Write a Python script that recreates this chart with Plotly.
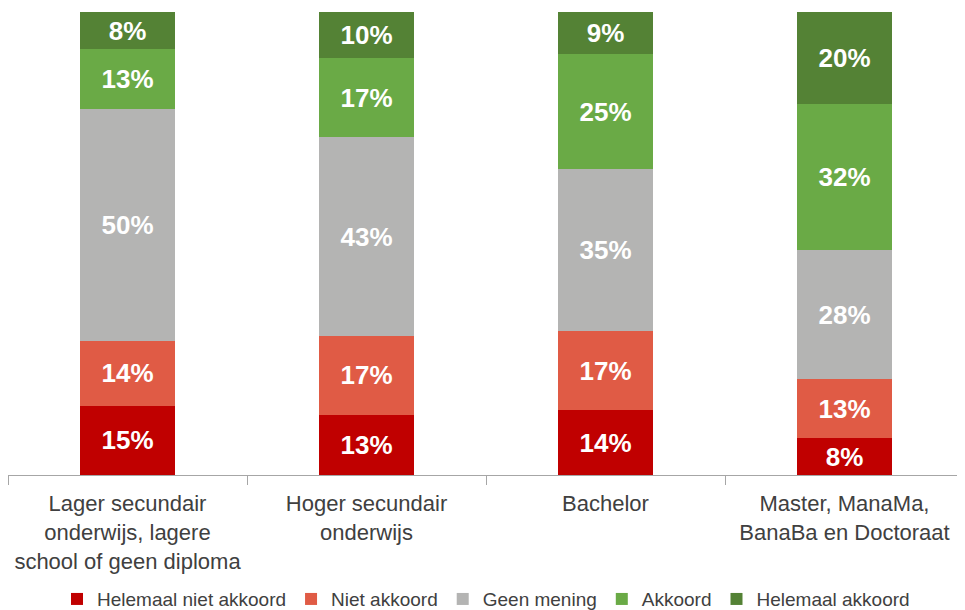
import plotly.graph_objects as go

categories = [
    "Lager secundair<br>onderwijs, lagere<br>school of geen diploma",
    "Hoger secundair<br>onderwijs",
    "Bachelor",
    "Master, ManaMa,<br>BanaBa en Doctoraat",
]
series_names = ["Helemaal niet akkoord", "Niet akkoord", "Geen mening", "Akkoord", "Helemaal akkoord"]
helemaal_niet = [15, 13, 14, 8]
niet = [14, 17, 17, 13]
geen = [50, 43, 35, 28]
akkoord = [13, 17, 25, 32]
helemaal = [8, 10, 9, 20]
colors = ["#C00000", "#E05B45", "#B4B4B3", "#6AAA46", "#548235"]

fig = go.Figure()
for name, vals, col in zip(series_names, [helemaal_niet, niet, geen, akkoord, helemaal], colors):
    fig.add_trace(go.Bar(
        x=categories, y=vals, name=name,
        marker=dict(color=col, line=dict(width=0)),
        text=[f"{v}%" for v in vals], textposition="inside", insidetextanchor="middle",
        textfont=dict(family="Liberation Sans, Arial", size=26, color="white", weight="bold"),
        texttemplate="<b>%{text}</b>",
    ))

fig.update_layout(
    barmode="stack", barnorm="percent", bargap=0.6,
    width=957, height=602,
    margin=dict(l=0, r=1, t=4, b=135, autoexpand=False),
    plot_bgcolor="white", paper_bgcolor="white",
    font=dict(family="Liberation Sans, Arial", color="#404040"),
    uniformtext=dict(mode="show", minsize=10),
    legend=dict(orientation="h", x=0.5, xanchor="center", y=-0.227, yanchor="top",
                font=dict(size=19, color="#404040"), traceorder="normal",
                itemwidth=30, tracegroupgap=0),
    showlegend=True,
)
fig.update_xaxes(showline=True, linecolor="#A6A6A6", linewidth=1, automargin=False,
                 ticks="outside", tickson="boundaries", ticklen=9, tickcolor="#A6A6A6",
                 ticklabelstandoff=9,
                 tickfont=dict(size=22, color="#404040"), showgrid=False)
fig.update_yaxes(range=[0, 100], visible=False, showgrid=False, automargin=False)

fig.write_html("out.html")
